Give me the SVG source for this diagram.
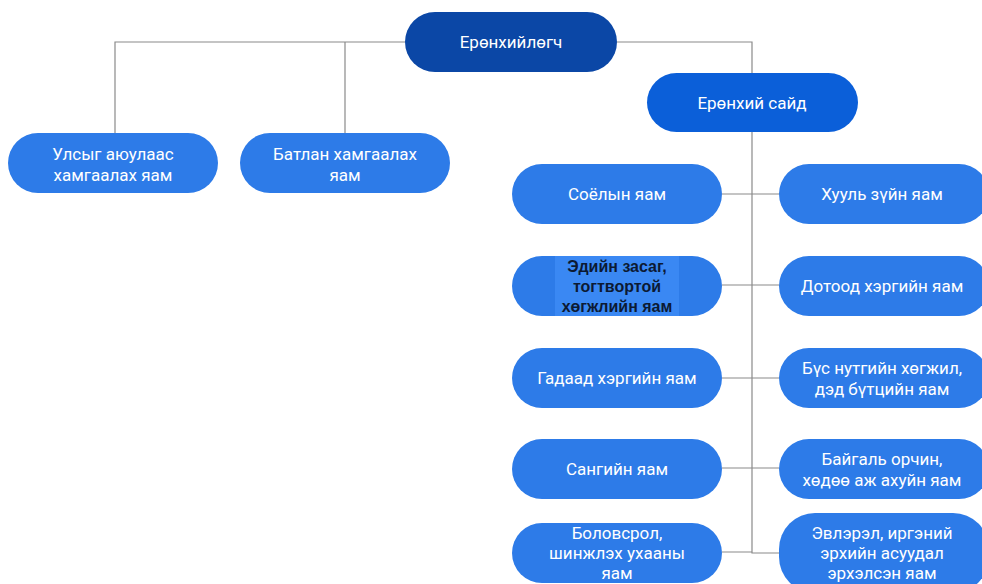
<svg xmlns="http://www.w3.org/2000/svg" width="982" height="584" viewBox="0 0 982 584">
<style>
.n{fill:#2d7be8}
.t{font-family:Roboto,"Liberation Sans",sans-serif;font-size:17px;fill:#ffffff;text-anchor:middle;dominant-baseline:central}
.b{font-family:"Liberation Sans",Arial,sans-serif;font-size:16px;font-weight:bold;fill:#0c1a33;text-anchor:middle;dominant-baseline:central}
.c{fill:none;stroke:#8a8a8a;stroke-width:1.2}
</style>
<rect width="982" height="584" fill="#ffffff"/>
<g id="connectors">
<path class="c" d="M405 42H115V133M345 42V133"/>
<path class="c" d="M617 42H752V73"/>
<path class="c" d="M752 132V553H779"/>
<path class="c" d="M722 194H779M722 285H779M722 378H779M722 468H779M722 552H752"/>
</g>
<g id="president">
<rect x="405" y="12" width="212" height="60" rx="30" fill="#0b47a6"/>
<text class="t" x="511" y="42">Ерөнхийлөгч</text>
</g>
<g id="pm">
<rect x="647" y="73" width="211" height="59" rx="29.5" fill="#0b5fd9"/>
<text class="t" x="752" y="103">Ерөнхий сайд</text>
</g>
<g id="security">
<rect class="n" x="8" y="133" width="210" height="60" rx="30"/>
<text class="t" x="113" y="154">Улсыг аюулаас</text>
<text class="t" x="113" y="175">хамгаалах яам</text>
</g>
<g id="defense">
<rect class="n" x="240" y="133" width="210" height="60" rx="30"/>
<text class="t" x="345" y="154">Батлан хамгаалах</text>
<text class="t" x="345" y="175">яам</text>
</g>
<g id="culture">
<rect class="n" x="512" y="164" width="210" height="60" rx="30"/>
<text class="t" x="617" y="194">Соёлын яам</text>
</g>
<g id="economy">
<rect class="n" x="512" y="256" width="210" height="60" rx="30"/>
<rect x="555" y="256" width="124" height="60" fill="#3a88f3"/>
<text class="b" x="617" y="266">Эдийн засаг,</text>
<text class="b" x="617" y="286">тогтвортой</text>
<text class="b" x="617" y="306">хөгжлийн яам</text>
</g>
<g id="foreign">
<rect class="n" x="512" y="348" width="210" height="60" rx="30"/>
<text class="t" x="617" y="378">Гадаад хэргийн яам</text>
</g>
<g id="finance">
<rect class="n" x="512" y="439" width="210" height="60" rx="30"/>
<text class="t" x="617" y="469">Сангийн яам</text>
</g>
<g id="education">
<rect class="n" x="512" y="523" width="210" height="60" rx="30"/>
<text class="t" x="617" y="533">Боловсрол,</text>
<text class="t" x="617" y="553">шинжлэх ухааны</text>
<text class="t" x="617" y="573">яам</text>
</g>
<g id="justice">
<rect class="n" x="779" y="164" width="210" height="60" rx="30"/>
<text class="t" x="882" y="194">Хууль зүйн яам</text>
</g>
<g id="interior">
<rect class="n" x="779" y="256" width="210" height="60" rx="30"/>
<text class="t" x="882" y="286">Дотоод хэргийн яам</text>
</g>
<g id="regional">
<rect class="n" x="779" y="348" width="210" height="60" rx="30"/>
<text class="t" x="882" y="368">Бүс нутгийн хөгжил,</text>
<text class="t" x="882" y="389">дэд бүтцийн яам</text>
</g>
<g id="environment">
<rect class="n" x="779" y="439" width="210" height="60" rx="30"/>
<text class="t" x="882" y="459">Байгаль орчин,</text>
<text class="t" x="882" y="480">хөдөө аж ахуйн яам</text>
</g>
<g id="labor">
<rect class="n" x="779" y="513" width="210" height="80" rx="36"/>
<text class="t" x="882" y="533">Эвлэрэл, иргэний</text>
<text class="t" x="882" y="553">эрхийн асуудал</text>
<text class="t" x="882" y="573">эрхэлсэн яам</text>
</g>
</svg>
